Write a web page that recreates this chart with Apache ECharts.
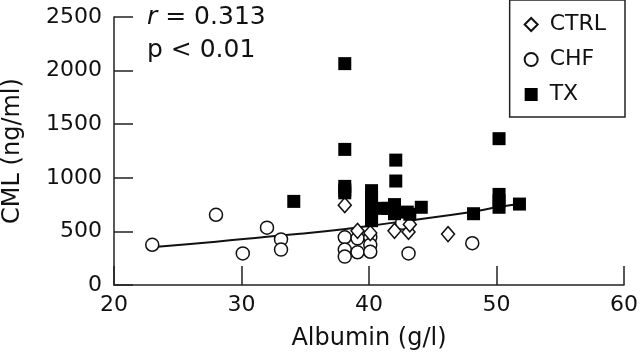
<!DOCTYPE html>
<html>
<head>
<meta charset="utf-8">
<script src="https://cdn.jsdelivr.net/npm/echarts@6/dist/echarts.min.js"></script>
<style>
  html, body { margin: 0; padding: 0; background: #fff; }
  #chart { width: 640px; height: 362px; }
</style>
</head>
<body>
<div id="chart"></div>
<script>
// data
var ctrlX = [38.1, 39.1, 40.1, 42.0, 43.1, 43.2, 46.2];
var ctrlY = [745, 505, 485, 505, 495, 565, 475];

var chfX = [23.0, 28.0, 30.1, 32.0, 33.1, 33.1, 38.1, 38.1, 38.1, 39.1, 39.1, 40.1, 40.1, 40.1, 42.6, 43.1, 48.1];
var chfY = [375, 655, 295, 535, 425, 330, 445, 330, 265, 435, 305, 445, 375, 310, 580, 295, 390];

var txX = [34.1, 38.1, 38.1, 38.1, 38.1, 38.1, 40.2, 40.2, 40.2, 40.2, 40.2, 40.2, 41.0, 41.5,
           42.1, 42.1, 42.0, 42.0, 43.0, 43.2, 44.1, 48.2, 50.2, 50.2, 50.2, 50.2, 51.8];
var txY = [780, 2065, 1265, 920, 885, 860, 880, 820, 760, 700, 640, 600, 715, 715,
           1165, 970, 750, 665, 680, 660, 725, 665, 1365, 845, 785, 725, 755];

// fitted curve
var fitX = [23.4, 28, 32, 34.6, 38, 40, 43, 47.5, 50.3, 51.8];
var fitY = [357, 403, 450, 478, 520, 550, 600, 672, 729, 755];

var xTicks = [20, 30, 40, 50, 60];
var yTicks = [0, 500, 1000, 1500, 2000, 2500];

function pairs(xs, ys) {
    return xs.map(function (x, i) { return [x, ys[i]]; });
}

var FONT = 'DejaVu Sans';
var myChart = echarts.init(document.getElementById('chart'));

var option = {
    animation: false,
    backgroundColor: '#fff',
    grid: { left: 114, right: 16, top: 17, bottom: 77, outerBoundsMode: 'none' },
    legend: {
        orient: 'vertical',
        right: 15,
        top: 0,
        padding: [12, 19, 10, 14],
        itemGap: 10,
        itemWidth: 13,
        itemHeight: 13,
        borderColor: '#222',
        borderWidth: 1.5,
        formatter: function (name) { return ' ' + name; },
        textStyle: { fontFamily: FONT, fontSize: 22, color: '#111', lineHeight: 25 },
        data: ['CTRL', 'CHF', 'TX']
    },
    xAxis: {
        type: 'value',
        min: xTicks[0],
        max: xTicks[xTicks.length - 1],
        interval: 10,
        name: 'Albumin (g/l)',
        nameLocation: 'middle',
        nameGap: 42,
        nameTextStyle: { fontFamily: FONT, fontSize: 24, color: '#111' },
        axisLine: { lineStyle: { color: '#222', width: 1.5 } },
        axisTick: { inside: true, length: 19, lineStyle: { color: '#222', width: 1.5 } },
        axisLabel: { fontFamily: FONT, fontSize: 22, color: '#111', margin: 9 },
        splitLine: { show: false }
    },
    yAxis: {
        type: 'value',
        min: yTicks[0],
        max: yTicks[yTicks.length - 1],
        interval: 500,
        name: 'CML (ng/ml)',
        nameLocation: 'middle',
        nameGap: 89,
        nameTextStyle: { fontFamily: FONT, fontSize: 24, color: '#111' },
        axisLine: { show: true, lineStyle: { color: '#222', width: 1.5 } },
        axisTick: { show: true, inside: true, length: 19, lineStyle: { color: '#222', width: 1.5 } },
        axisLabel: {
            fontFamily: FONT, fontSize: 22, color: '#111', margin: 12,
            formatter: function (v) { return String(v); }
        },
        splitLine: { show: false }
    },
    graphic: [
        {
            type: 'text',
            left: 147,
            top: 5,
            style: {
                text: '{i|r} = 0.313',
                font: '25px ' + FONT,
                fill: '#111',
                rich: { i: { fontStyle: 'italic', fontFamily: FONT, fontSize: 25, fill: '#111' } }
            }
        },
        {
            type: 'text',
            left: 147,
            top: 38,
            style: { text: 'p < 0.01', font: '25px ' + FONT, fill: '#111' }
        }
    ],
    series: [
        {
            type: 'line',
            data: pairs(fitX, fitY),
            smooth: true,
            showSymbol: false,
            silent: true,
            z: 1,
            lineStyle: { color: '#111', width: 2 }
        },
        {
            name: 'CHF',
            type: 'scatter',
            symbol: 'circle',
            symbolSize: 13,
            z: 2,
            itemStyle: { color: '#fff', borderColor: '#111', borderWidth: 1.5, opacity: 1 },
            data: pairs(chfX, chfY)
        },
        {
            name: 'CTRL',
            type: 'scatter',
            symbol: 'diamond',
            symbolSize: [13, 15],
            z: 3,
            itemStyle: { color: '#fff', borderColor: '#111', borderWidth: 1.5, opacity: 1 },
            data: pairs(ctrlX, ctrlY)
        },
        {
            name: 'TX',
            type: 'scatter',
            symbol: 'rect',
            symbolSize: 13,
            z: 4,
            itemStyle: { color: '#000', opacity: 1 },
            data: pairs(txX, txY)
        }
    ]
};

myChart.setOption(option);
</script>
</body>
</html>
